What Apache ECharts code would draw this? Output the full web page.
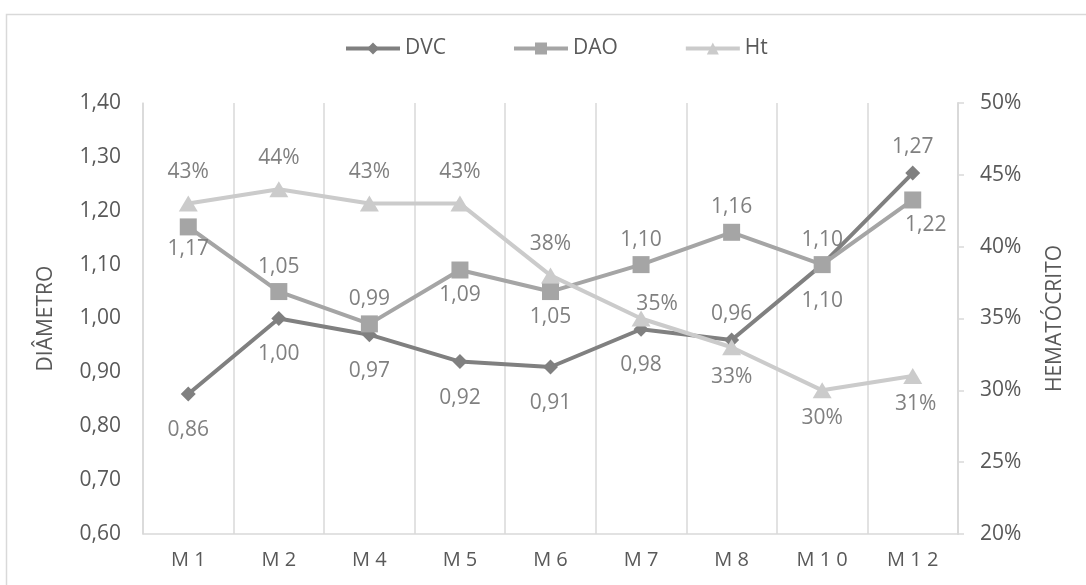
<!DOCTYPE html>
<html>
<head>
<meta charset="utf-8">
<script src="https://cdn.jsdelivr.net/npm/echarts@6/dist/echarts.min.js"></script>
<style>
html,body{margin:0;padding:0;background:#fff;}
#chart{width:1086px;height:585px;}
</style>
</head>
<body>
<div id="chart"></div>
<script>
const categories = ['M1','M2','M4','M5','M6','M7','M8','M10','M12'];
const dvc = [0.86,1.00,0.97,0.92,0.91,0.98,0.96,1.10,1.27];
const dao = [1.17,1.05,0.99,1.09,1.05,1.10,1.16,1.10,1.22];
const ht  = [43,44,43,43,38,35,33,30,31];
const leftTicks = {min:0.6, max:1.4, interval:0.1};
const rightTicks = {min:20, max:50, interval:5};

// label layout per point (styles, not data)
const dvcLab = [
  {position:'bottom',distance:18},{position:'bottom',distance:18},{position:'bottom',distance:18},
  {position:'bottom',distance:18},{position:'bottom',distance:18},{position:'bottom',distance:18},
  {position:'top',distance:8},{position:'bottom',distance:18},{position:'top',distance:8}
];
const daoLab = [
  {position:'bottom',distance:3},{position:'top',distance:6},{position:'top',distance:6},
  {position:'bottom',distance:6},{position:'bottom',distance:6},{position:'top',distance:6},
  {position:'top',distance:6},{position:'top',distance:6},{position:'bottom',distance:6,offset:[13,0]}
];
const htLab = [
  {position:'top',distance:13},{position:'top',distance:13},{position:'top',distance:13},
  {position:'top',distance:13},{position:'top',distance:13},{position:'top',distance:13,offset:[16,17]},
  {position:'bottom',distance:11},{position:'bottom',distance:9},{position:'bottom',distance:10,offset:[3,0]}
];

const FONT = 'Open Sans';
const comma = v => Number(v).toFixed(2).replace('.', ',');

function build(values, labs, fmt){
  return values.map((v,i)=>({value:v, label:Object.assign({show:true, formatter:p=>fmt(p.value)}, labs[i])}));
}

const labelStyle = {color:'#808080', fontSize:21, fontFamily:FONT};

const chart = echarts.init(document.getElementById('chart'));
chart.setOption({
  animation:false,
  backgroundColor:'#ffffff',
  textStyle:{fontFamily:FONT},
  graphic:[{
    type:'rect', left:4, top:12, silent:true,
    shape:{x:0,y:0,width:1100,height:600},
    style:{fill:'none', stroke:'#d9d9d9', lineWidth:1.5}
  }],
  legend:{
    top:33, left:339,
    itemWidth:54, itemHeight:15, itemGap:66,
    textStyle:{color:'#595959', fontSize:21, fontFamily:FONT},
    lineStyle:{width:4},
    data:['DVC','DAO','Ht']
  },
  grid:{left:143, right:128, top:103, bottom:51, containLabel:false},
  xAxis:{
    type:'category', data:categories, boundaryGap:true,
    axisLine:{show:true, lineStyle:{color:'#d9d9d9', width:1.5}},
    axisTick:{show:false},
    splitLine:{show:true, lineStyle:{color:'#d9d9d9', width:1.5}},
    axisLabel:{color:'#595959', fontSize:20, fontFamily:FONT, margin:16,
      formatter:v=>v.split('').join(' ')}
  },
  yAxis:[{
    type:'value', position:'left',
    min:leftTicks.min, max:leftTicks.max, interval:leftTicks.interval,
    name:'DIÂMETRO', nameLocation:'middle', nameGap:86, nameRotate:90,
    nameTextStyle:{color:'#595959', fontSize:21, fontFamily:FONT},
    axisLine:{show:true, lineStyle:{color:'#d9d9d9', width:1.5}},
    axisTick:{show:false},
    splitLine:{show:false},
    axisLabel:{color:'#595959', fontSize:21, fontFamily:FONT, margin:22, formatter:v=>comma(v)}
  },{
    type:'value', position:'right',
    min:rightTicks.min, max:rightTicks.max, interval:rightTicks.interval,
    name:'HEMATÓCRITO', nameLocation:'middle', nameGap:87, nameRotate:90,
    nameTextStyle:{color:'#595959', fontSize:21, fontFamily:FONT},
    axisLine:{show:true, lineStyle:{color:'#d9d9d9', width:2}},
    axisTick:{show:true, length:6, inside:false, lineStyle:{color:'#d9d9d9', width:1.5}},
    splitLine:{show:false},
    axisLabel:{color:'#595959', fontSize:21, fontFamily:FONT, margin:22, formatter:'{value}%'}
  }],
  series:[{
    name:'DVC', type:'line', yAxisIndex:0,
    data:build(dvc, dvcLab, comma),
    symbol:'diamond', symbolSize:[15,15],
    lineStyle:{color:'#808080', width:4},
    itemStyle:{color:'#808080'},
    label:labelStyle
  },{
    name:'DAO', type:'line', yAxisIndex:0,
    data:build(dao, daoLab, comma),
    symbol:'rect', symbolSize:[17,17],
    lineStyle:{color:'#a5a5a5', width:4},
    itemStyle:{color:'#a5a5a5'},
    label:labelStyle
  },{
    name:'Ht', type:'line', yAxisIndex:1,
    data:build(ht, htLab, v=>v+'%'),
    symbol:'triangle', symbolSize:[19,16],
    lineStyle:{color:'#cbcbcb', width:4},
    itemStyle:{color:'#cbcbcb'},
    label:labelStyle
  }]
});
</script>
</body>
</html>
